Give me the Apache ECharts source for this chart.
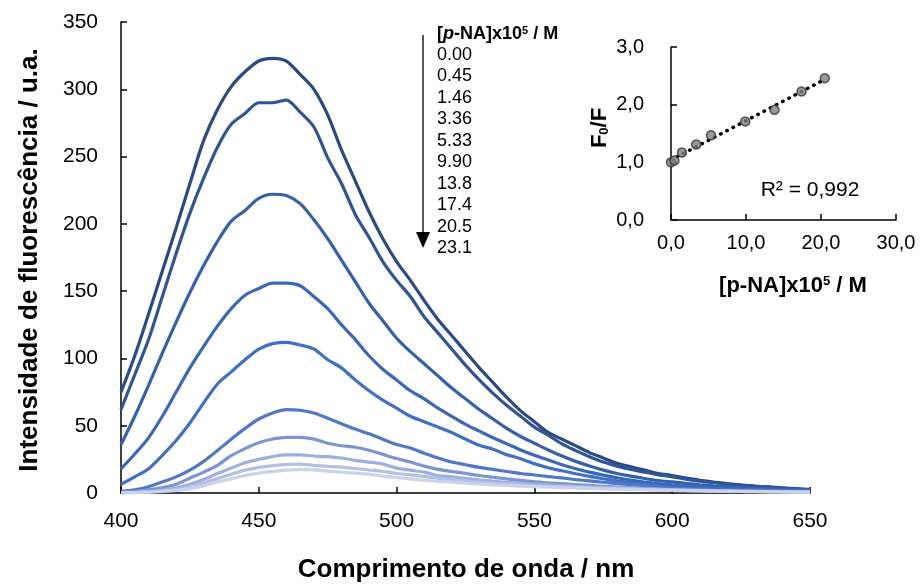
<!DOCTYPE html>
<html><head><meta charset="utf-8">
<script src="https://cdn.jsdelivr.net/npm/echarts@6/dist/echarts.min.js"></script>
<style>html,body{margin:0;padding:0;background:#fff}#c{width:920px;height:584px}</style>
</head><body><div id="c"></div>
<script>
// wavelength grid (nm)
const wavelengths = [400,405,410,415,420,425,430,435,440,445,450,455,460,465,470,475,480,485,490,495,500,505,510,515,520,525,530,535,540,545,550,555,560,565,570,575,580,585,590,595,600,605,610,615,620,625,630,635,640,645,650];
// concentrations [p-NA]x10^5 / M
const concentrations = ['0.00','0.45','1.46','3.36','5.33','9.90','13.8','17.4','20.5','23.1'];
// fluorescence spectra (u.a.)
const s000 = [75,102,133,165,197,230,262,285,302,313,321,323,321,311,300,281,255,232,209,189,172,158,143,129,117,105,93,82,71,61,53,45,40,35,30,26,22,19.5,17,14.5,13,11,9.5,8.2,7,6,5.2,4.5,3.8,3.2,2.6];
const s045 = [62,88,114,146,178,208,234,257,274,282,290,290,292,283,272,249,230,207,190,172,158,146,131,119,107,95,84,74,65,57,49,43,36.5,31.5,27,23,20,17.5,15.5,13.5,12,10.3,8.8,7.6,6.6,5.7,5,4.3,3.6,3,2.5];
const s146 = [36,57,80,104,127,149,169,187,202,210,219,222,221,215,203,189,173,157,141,128,115,105,96,87,78,70,62,55,48,42,37,32,27.5,23.5,20,17,14.5,12.5,10.8,9.3,8.2,7.1,6.1,5.3,4.6,4,3.5,3.1,2.7,2.4,2.1];
const s336 = [18,29,41,57,75,93,109,124,137,147,152,156,156,154,146,137,125,114,102,92,84,76,70,63,57,51,46,41,36.5,32,28,24.5,21,18,15.5,13.3,11.3,9.6,8.2,7,6,5.2,4.5,3.9,3.4,3,2.6,2.3,2,1.8,1.6];
const s533 = [6.5,12,18,28,39,52,67,81,90,99,107,111,112,110,107,99,93,84,76,69,63,57,53,49,45,40,35.5,32.5,28.5,25.5,21.7,18.8,16.5,14.3,12.3,10.6,9,7.5,6.3,5.2,4.5,3.8,3.2,2.8,2.5,2.2,2,1.8,1.6,1.4,1.3];
const s990 = [1.2,2.3,4.7,8.2,12,17,23.5,31.6,40,48,55,59.5,62,61.5,59.5,55.5,51.5,47.5,44,40,36,33.5,29.5,26,23,21,19,17.5,16,14.5,13.4,12.2,11.2,10,9,8,7,6.2,5.4,4.6,3.8,3.1,2.5,2.1,1.9,1.7,1.5,1.3,1.2,1.1,1];
const s138 = [0.5,1,2.3,4,6.5,11,15.5,20.6,27.7,33,37.3,40.1,41.4,41.4,40,37,35.1,34,31.8,28.7,25.6,23,20,17.6,16,14.6,13,11.7,10.5,9.4,8.4,7.5,6.9,6.2,5.6,5,4.4,3.9,3.4,3,2.6,2.3,2,1.8,1.6,1.4,1.3,1.2,1.1,1,0.9];
const s174 = [0.3,0.5,1,2,3.8,6.5,10,14.5,18.5,22.5,25,27,28.3,28.3,27.5,27,26,24.3,23,21.5,18.5,17,15.5,13,12,10.9,9.8,8.8,7.9,7.2,6.6,6,5.5,5,4.6,4.2,3.8,3.4,3,2.7,2.4,2.1,1.9,1.7,1.5,1.3,1.2,1.1,1,0.9,0.8];
const s205 = [0.2,0.4,0.8,1.5,2.6,4.6,7.5,10.7,14,17,19,20.4,21.3,21.5,20.5,19.8,19.2,18.2,17.1,16,14.5,13.5,12.3,11,10,9,8.2,7.4,6.6,6,5.4,5,4.6,4.2,3.8,3.5,3.2,2.9,2.6,2.3,2.1,1.9,1.7,1.5,1.4,1.2,1.1,1,0.9,0.8,0.7];
const s231 = [0.1,0.3,0.6,1.2,2,3.3,5.3,8.2,10.5,13,14.8,16,17,17.6,17.2,16.3,15.5,14.8,14,12.5,11.5,10.5,9.5,8.7,8,7.3,6.7,6.1,5.6,5.1,4.7,4.3,4,3.7,3.4,3.1,2.8,2.6,2.3,2.1,1.9,1.7,1.5,1.4,1.2,1.1,1,0.9,0.8,0.7,0.6];
const spectra = [s000,s045,s146,s336,s533,s990,s138,s174,s205,s231];
const lineColors = ['#2a4a85','#2f5597','#3461ab','#3868b8','#3f70c5','#5078c8','#7c95d2','#9cafdf','#b3c0e5','#cad3ec'];

// Stern-Volmer inset
const svConc = [0,0.45,1.46,3.36,5.33,9.90,13.8,17.4,20.5];
const svRatio = [1.00,1.03,1.17,1.31,1.47,1.71,1.91,2.23,2.46];
const yTicksMain = [0,50,100,150,200,250,300,350];

// least-squares trendline through inset points
const n = svConc.length;
const mx = svConc.reduce((a,b)=>a+b,0)/n, my = svRatio.reduce((a,b)=>a+b,0)/n;
let sxy=0,sxx=0; for(let i=0;i<n;i++){sxy+=(svConc[i]-mx)*(svRatio[i]-my); sxx+=(svConc[i]-mx)**2;}
const slope=sxy/sxx, icpt=my-slope*mx;
const xmin=Math.min(...svConc), xmax=Math.max(...svConc);
const trend=[[xmin,icpt+slope*xmin],[xmax,icpt+slope*xmax]];

const FONT='"Liberation Sans", Arial, sans-serif';
const axisLine={show:true,onZero:false,lineStyle:{color:'#000',width:1.5}};
const axisTick={show:true,inside:true,length:6,lineStyle:{color:'#000',width:1.5}};
const comma=v=>v.toFixed(1).replace('.',',');

const series=[];
spectra.forEach((arr,i)=>{
  series.push({type:'line',name:concentrations[i],xAxisIndex:0,yAxisIndex:0,
    data:wavelengths.map((w,j)=>[w,arr[j]]),showSymbol:false,smooth:0.3,
    lineStyle:{color:lineColors[i],width:3.2},z:2});
});
series.push({type:'line',xAxisIndex:1,yAxisIndex:1,data:trend,showSymbol:false,
  lineStyle:{color:'#000',width:3.5,type:[0.5,6.5],cap:'round'},z:3});
series.push({type:'scatter',xAxisIndex:1,yAxisIndex:1,data:svConc.map((c,i)=>[c,svRatio[i]]),
  symbol:'circle',symbolSize:9,itemStyle:{color:'#7f7f7f',borderColor:'#333',borderWidth:1.5},z:4});

const graphic=[
  {type:'text',x:30,y:260,rotation:Math.PI/2,style:{text:'Intensidade de fluorescência / u.a.',font:'bold 26px '+FONT,fill:'#000',align:'center',verticalAlign:'middle'}},
  {type:'text',x:466,y:570,style:{text:'Comprimento de onda / nm',font:'bold 26px '+FONT,fill:'#000',align:'center',verticalAlign:'middle'}},
  {type:'line',shape:{x1:423,y1:35,x2:423,y2:236},style:{stroke:'#222',lineWidth:1.5}},
  {type:'polygon',shape:{points:[[416,232],[430,232],[423,248]]},style:{fill:'#000'}},
  {type:'text',x:437,y:34,style:{rich:{b:{font:'bold 18px '+FONT,fill:'#000'},i:{font:'italic bold 18px '+FONT,fill:'#000'},s:{font:'bold 11px '+FONT,fill:'#000',verticalAlign:'top',padding:[0,0,7,0]}},
    text:'{b|[}{i|p}{b|-NA]x10}{s|5}{b| / M}',align:'left',verticalAlign:'middle'}},
  {type:'text',x:793,y:286,style:{rich:{b:{font:'bold 22px '+FONT,fill:'#000'},s:{font:'bold 13px '+FONT,fill:'#000',verticalAlign:'top',padding:[0,0,8,0]}},
    text:'{b|[p-NA]x10}{s|5}{b| / M}',align:'center',verticalAlign:'middle'}},
  {type:'text',x:600,y:128,rotation:Math.PI/2,style:{rich:{b:{font:'bold 22px '+FONT,fill:'#000'},s:{font:'bold 13px '+FONT,fill:'#000',verticalAlign:'bottom',padding:[8,0,0,0]}},
    text:'{b|F}{s|0}{b|/F}',align:'center',verticalAlign:'middle'}},
  {type:'text',x:810,y:190,style:{text:'R² = 0,992',font:'21px '+FONT,fill:'#000',align:'center',verticalAlign:'middle'}}
];
concentrations.forEach((c,i)=>{
  graphic.push({type:'text',x:437,y:55+i*21.45,style:{text:c,font:'18px '+FONT,fill:'#000',align:'left',verticalAlign:'middle'}});
});

const chart=echarts.init(document.getElementById('c'),null,{renderer:'canvas'});
chart.setOption({
  animation:false,backgroundColor:'#fff',
  grid:[{left:121,top:22,width:689,height:471},{left:671,top:47,width:225,height:173}],
  xAxis:[
    {type:'value',gridIndex:0,min:400,max:650,interval:50,axisLine,axisTick,splitLine:{show:false},
     axisLabel:{color:'#000',fontSize:21,fontFamily:FONT,margin:18}},
    {type:'value',gridIndex:1,min:0,max:30,interval:10,axisLine,axisTick,splitLine:{show:false},
     axisLabel:{color:'#000',fontSize:20,fontFamily:FONT,margin:13,formatter:comma}}
  ],
  yAxis:[
    {type:'value',gridIndex:0,min:yTicksMain[0],max:yTicksMain[yTicksMain.length-1],interval:50,axisLine,axisTick,splitLine:{show:false},
     axisLabel:{color:'#000',fontSize:21,fontFamily:FONT,margin:23}},
    {type:'value',gridIndex:1,min:0,max:3,interval:1,axisLine,axisTick,splitLine:{show:false},
     axisLabel:{color:'#000',fontSize:20,fontFamily:FONT,margin:27,formatter:comma}}
  ],
  series,graphic
});
</script></body></html>
